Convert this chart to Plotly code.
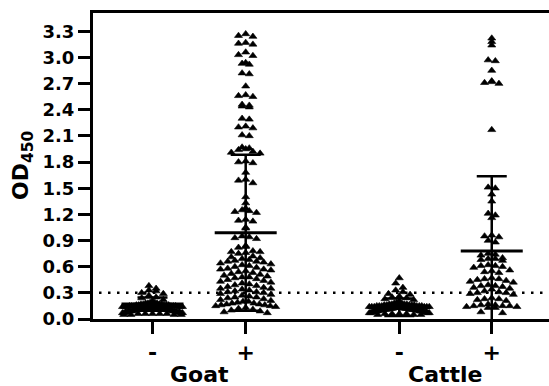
import numpy as np
import plotly.graph_objects as go

# ---------------- data ----------------
species = ["Goat", "Cattle"]
conditions = ["-", "+", "-", "+"]

goat_neg = [0.38, 0.35, 0.33, 0.32, 0.30, 0.29, 0.27, 0.25, 0.24, 0.22,
            0.20, 0.19, 0.19, 0.18, 0.18, 0.18, 0.17, 0.17, 0.17, 0.17,
            0.16, 0.16, 0.16, 0.16, 0.16, 0.15, 0.15, 0.15, 0.15, 0.15, 0.15,
            0.14, 0.14, 0.14, 0.14, 0.14, 0.14,
            0.13, 0.13, 0.13, 0.13, 0.13, 0.13, 0.13,
            0.12, 0.12, 0.12, 0.12, 0.12, 0.12, 0.12,
            0.11, 0.11, 0.11, 0.11, 0.11, 0.11,
            0.10, 0.10, 0.10, 0.10, 0.10, 0.10,
            0.09, 0.09, 0.09, 0.09, 0.09,
            0.08, 0.08, 0.08, 0.08, 0.08,
            0.07, 0.07, 0.07, 0.07,
            0.06, 0.06, 0.06, 0.06, 0.06, 0.05, 0.05, 0.05, 0.05]

goat_pos = [3.27, 3.25, 3.24, 3.17, 3.16, 3.15, 3.06, 3.03, 3.02, 2.94, 2.93, 2.92,
            2.82, 2.81, 2.67, 2.57, 2.56, 2.55, 2.46, 2.45, 2.44, 2.43, 2.30, 2.29,
            2.21, 2.20, 2.19, 2.11, 2.10, 1.97, 1.96, 1.95, 1.94, 1.92, 1.91, 1.90,
            1.81, 1.80, 1.79, 1.68, 1.60, 1.59, 1.56,
            1.40, 1.33, 1.27, 1.25, 1.24, 1.23, 1.22, 1.14, 1.13, 1.12, 1.05, 1.04,
            0.95, 0.94, 0.93, 0.92, 0.84, 0.83, 0.82, 0.78, 0.77, 0.77, 0.76, 0.75,
            0.72, 0.71, 0.70, 0.69, 0.68, 0.67, 0.66, 0.66, 0.65, 0.64, 0.63, 0.62,
            0.61, 0.60, 0.59, 0.58, 0.57, 0.57, 0.56, 0.55, 0.54, 0.53, 0.52, 0.51,
            0.50, 0.49, 0.48, 0.48, 0.47, 0.46, 0.45, 0.44, 0.43, 0.42, 0.41, 0.40,
            0.39, 0.38, 0.37, 0.36, 0.35, 0.35, 0.34, 0.33, 0.32, 0.31, 0.31, 0.30,
            0.29, 0.28, 0.27, 0.26, 0.25, 0.25, 0.24, 0.23, 0.22, 0.21, 0.20, 0.20,
            0.19, 0.18, 0.18, 0.17, 0.17, 0.16, 0.16, 0.15, 0.15, 0.14, 0.13, 0.12,
            0.11, 0.10, 0.09, 0.08, 0.07]

cattle_neg = [0.47, 0.41, 0.36, 0.33, 0.31, 0.29, 0.28, 0.26, 0.25, 0.24, 0.23, 0.22,
              0.20, 0.19, 0.18, 0.18, 0.17, 0.17, 0.17, 0.17,
              0.16, 0.16, 0.16, 0.16, 0.16, 0.15, 0.15, 0.15, 0.15, 0.15, 0.15,
              0.14, 0.14, 0.14, 0.14, 0.14, 0.14,
              0.13, 0.13, 0.13, 0.13, 0.13, 0.13, 0.13, 0.13,
              0.12, 0.12, 0.12, 0.12, 0.12, 0.12, 0.12, 0.12,
              0.11, 0.11, 0.11, 0.11, 0.11, 0.11, 0.11,
              0.10, 0.10, 0.10, 0.10, 0.10, 0.10, 0.10,
              0.09, 0.09, 0.09, 0.09, 0.09, 0.09,
              0.08, 0.08, 0.08, 0.08, 0.08,
              0.07, 0.07, 0.07, 0.07,
              0.06, 0.06, 0.06, 0.06, 0.05, 0.05, 0.05]

cattle_pos = [3.22, 3.18, 3.14, 2.97, 2.96, 2.85, 2.73, 2.72, 2.71, 2.70, 2.17,
              1.51, 1.50, 1.43, 1.35, 1.21, 1.19, 1.16,
              0.96, 0.95, 0.94, 0.90, 0.88,
              0.75, 0.74, 0.73, 0.70, 0.69, 0.69, 0.68, 0.67, 0.62, 0.61, 0.61,
              0.60, 0.59, 0.56, 0.55, 0.54, 0.53,
              0.47, 0.46, 0.46, 0.45, 0.44, 0.43, 0.42, 0.39, 0.38, 0.38, 0.37,
              0.36, 0.35, 0.34, 0.32, 0.31, 0.30, 0.30, 0.29, 0.28,
              0.24, 0.23, 0.23, 0.22, 0.21,
              0.17, 0.16, 0.16, 0.15, 0.15, 0.15, 0.14, 0.14, 0.13, 0.13, 0.08, 0.07]

group_means = [0.171, 0.99, 0.135, 0.78]
group_sds = [0.077, 0.894, 0.10, 0.856]
cutoff = 0.3
y_ticks = [0.0, 0.3, 0.6, 0.9, 1.2, 1.5, 1.8, 2.1, 2.4, 2.7, 3.0, 3.3]
y_tick_labels = ["0.0", "0.3", "0.6", "0.9", "1.2", "1.5", "1.8", "2.1", "2.4", "2.7", "3.0", "3.3"]

# ---------------- layout helpers ----------------
X_POS = [0.0, 1.0, 2.648, 3.64]
PX_PER_UNIT = 93.2
FONT = "DejaVu Sans, Arial, sans-serif"
FIG_W = 549
L_MARGIN = 93
R_MARGIN = 0


def swarm(values, center, bin_h=0.07, step_px=7.2, half_px=30.0):
    """Column scatter layout: values in the same bin are spread sideways."""
    bins = {}
    for v in sorted(values, reverse=True):
        bins.setdefault(int(np.floor(v / bin_h + 1e-6)), []).append(v)
    xs, ys = [], []
    for k in sorted(bins):
        b = bins[k]
        n = len(b)
        step = step_px if n <= 1 else min(step_px, 2 * half_px / (n - 1))
        offs = [(i - (n - 1) / 2) * step for i in range(n)]
        order = sorted(range(n), key=lambda i: (abs(offs[i]), offs[i]))
        for v, i in zip(b, order):
            xs.append(center + offs[i] / PX_PER_UNIT)
            ys.append(v)
    return xs, ys


def bold(s):
    return "<b>" + s + "</b>"


plot_w = FIG_W - L_MARGIN - R_MARGIN
x_left = (L_MARGIN - 152.5) / PX_PER_UNIT
x_right = x_left + plot_w / PX_PER_UNIT

series = [goat_neg, goat_pos, cattle_neg, cattle_pos]

fig = go.Figure()

# cutoff (dotted) line, drawn first so points sit on top
fig.add_trace(go.Scatter(
    x=[x_left + 6 / PX_PER_UNIT, x_right - 2 / PX_PER_UNIT], y=[cutoff, cutoff],
    mode="lines", showlegend=False, hoverinfo="skip",
    line=dict(color="black", width=2.5, dash="2.5px,6.5px")))

for vals, xc in zip(series, X_POS):
    xs, ys = swarm(vals, xc)
    fig.add_trace(go.Scatter(
        x=xs, y=ys, mode="markers", cliponaxis=False, showlegend=False,
        marker=dict(symbol="triangle-up", size=7, color="black",
                    line=dict(color="black", width=0.6))))

# SD error bars
fig.add_trace(go.Scatter(
    x=X_POS, y=group_means, mode="markers", showlegend=False,
    marker=dict(size=1, color="rgba(0,0,0,0)"),
    error_y=dict(type="data", array=group_sds, symmetric=True,
                 color="black", thickness=2.5, width=15)))

# mean lines
half_mean = 31.0 / PX_PER_UNIT
mx, my = [], []
for xc, m in zip(X_POS, group_means):
    mx += [xc - half_mean, xc + half_mean, None]
    my += [m, m, None]
fig.add_trace(go.Scatter(x=mx, y=my, mode="lines", showlegend=False,
                         line=dict(color="black", width=3)))

for i, name in enumerate(species):
    fig.add_annotation(x=(X_POS[2 * i] + X_POS[2 * i + 1]) / 2, xref="x",
                       y=-0.18, yref="paper", text=bold(name), showarrow=False,
                       xanchor="center", yanchor="middle",
                       font=dict(family=FONT, size=22, color="black"))

fig.add_annotation(x=(22 - L_MARGIN) / plot_w, xref="paper", y=0.5, yref="paper",
                   text=bold("OD<sub>450</sub>"), textangle=-90, showarrow=False,
                   xanchor="center", yanchor="middle",
                   font=dict(family=FONT, size=22, color="black"))

fig.update_layout(
    width=FIG_W, height=386,
    margin=dict(l=L_MARGIN, r=R_MARGIN, t=13, b=67),
    plot_bgcolor="white", paper_bgcolor="white",
    xaxis=dict(range=[x_left, x_right], showline=True, linewidth=3, linecolor="black",
               mirror=True, ticks="outside", ticklen=12, tickwidth=3, tickcolor="black",
               tickvals=X_POS, ticktext=[bold(c) for c in conditions],
               showgrid=False, zeroline=False,
               tickfont=dict(family=FONT, size=22, color="black")),
    yaxis=dict(range=[0, 3.51], showline=True, linewidth=3, linecolor="black",
               mirror=False, ticks="outside", ticklen=12, tickwidth=3, tickcolor="black",
               tickvals=y_ticks, ticktext=[bold(t) for t in y_tick_labels],
               showgrid=False, zeroline=False,
               tickfont=dict(family=FONT, size=18, color="black")),
)

fig.write_html("out.html", config={"displayModeBar": False, "staticPlot": True},
               post_script=("document.documentElement.style.overflow='hidden';"
                            "document.body.style.margin='0px';"
                            "document.body.style.overflow='hidden';"))
